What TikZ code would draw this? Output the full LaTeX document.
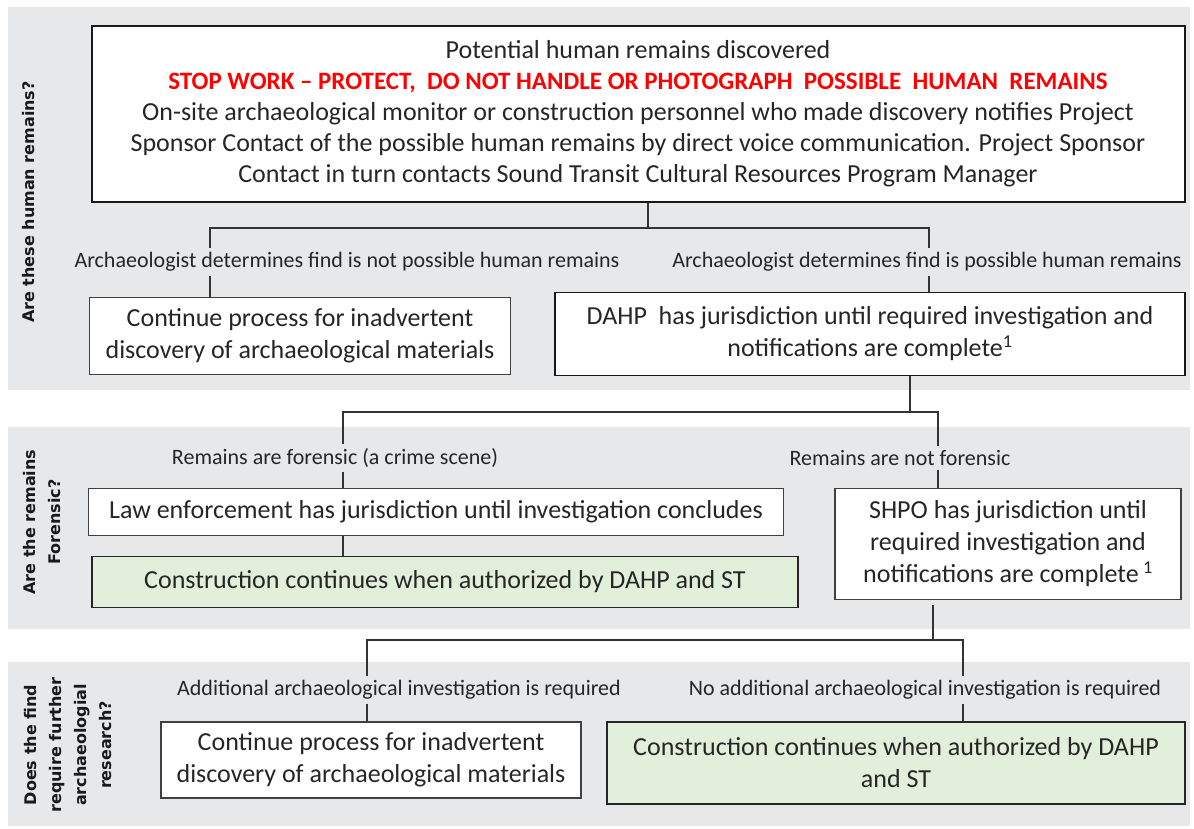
\documentclass[tikz,border=0pt]{standalone}
\usepackage{fontspec}
\setmainfont{Carlito}
\newfontfamily\sidefont{DejaVu Sans}
\usetikzlibrary{positioning}
\definecolor{bandgray}{RGB}{231,232,234}
\definecolor{boxgreen}{RGB}{226,239,218}
\definecolor{stopred}{RGB}{255,0,0}

\begin{document}
\begin{tikzpicture}[x=1pt, y=-1pt,
    wbox/.style={draw=black!75, line width=1.5pt, fill=white, align=center,
      inner sep=0pt, font=\fontsize{26}{32}\selectfont, text=black!85},
    gbox/.style={wbox, draw=black!85, line width=1.8pt, fill=boxgreen},
    lab/.style={align=center, inner xsep=2pt, inner ysep=4pt,
      font=\fontsize{22}{24}\selectfont, text=black!85},
    side/.style={rotate=90, align=center,
      font=\sidefont\bfseries\fontsize{16}{25}\selectfont, text=black!90},
    conn/.style={draw=black!80, line width=2pt}]

    \useasboundingbox (0,0) rectangle (1194,829);

    % -------------------------------------------------------
    % 1. Question bands
    % -------------------------------------------------------
    \fill[bandgray] (8,7) rectangle (1190,390);
    \fill[bandgray] (8,427) rectangle (1190,629);
    \fill[bandgray] (8,662) rectangle (1190,826);

    \node[side] (q1) at (29,202) {Are these human remains?};
    \node[side] (q2) at (42,522) {Are the remains\\Forensic?};
    \node[side] (q3) at (68,745) {Does the find\\require further\\archaeologial\\research?};

    % -------------------------------------------------------
    % 2. Discovery
    % -------------------------------------------------------
    \node[wbox, draw=black!90, line width=2pt, minimum width=1093, minimum height=176,
      font=\fontsize{26}{31}\selectfont]
      (discovery) at (638,114)
      {Potential human remains discovered\\
       {\color{stopred}\bfseries\fontsize{25}{31}\selectfont STOP WORK -- PROTECT,\ \ DO NOT HANDLE OR PHOTOGRAPH\ \ POSSIBLE\ \ HUMAN\ \ REMAINS}\\
       On-site archaeological monitor or construction personnel who made discovery notifies Project\\
       Sponsor Contact of the possible human remains by direct voice communication. Project Sponsor\\
       Contact in turn contacts Sound Transit Cultural Resources Program Manager};

    \node[lab] (notHuman) at (347,262) {Archaeologist determines find is not possible human remains};
    \node[lab] (isHuman) at (927,262) {Archaeologist determines find is possible human remains};

    \node[wbox, minimum width=421, minimum height=77] (continueA) at (300,336)
      {Continue process for inadvertent\\discovery of archaeological materials};
    \node[wbox, draw=black!90, minimum width=630, minimum height=83] (dahp) at (870,334)
      {DAHP\ \ has jurisdiction until required investigation and\\
       notifications are complete\textsuperscript{1}};

    \coordinate (d0) at (648,228);
    \coordinate (dL) at (210,228);
    \coordinate (dR) at (929,228);
    \draw[conn] (discovery.south -| d0) -- (d0);
    \draw[conn] (notHuman.north -| dL) -- (dL) -- (dR) -- (isHuman.north -| dR);
    \draw[conn] (notHuman.south -| dL) -- (continueA.north -| dL);
    \draw[conn] (isHuman.south -| dR) -- (dahp.north -| dR);

    % -------------------------------------------------------
    % 3. Forensic or not
    % -------------------------------------------------------
    \node[lab] (forensic) at (335,458) {Remains are forensic (a crime scene)};
    \node[lab] (notForensic) at (900,458) {Remains are not forensic};

    \node[wbox, minimum width=695, minimum height=47] (law) at (436,512)
      {Law enforcement has jurisdiction until investigation concludes};
    \node[gbox, minimum width=706, minimum height=51] (constructA) at (445,582)
      {Construction continues when\ authorized by DAHP and ST};
    \node[wbox, minimum width=346, minimum height=111] (shpo) at (1008,544)
      {SHPO has jurisdiction until\\required investigation and\\
       notifications are complete\,\textsuperscript{1}};

    \coordinate (f0) at (910,412);
    \coordinate (fL) at (343,412);
    \coordinate (fR) at (938,412);
    \draw[conn] (dahp.south -| f0) -- (f0);
    \draw[conn] (forensic.north -| fL) -- (fL) -- (fR) -- (notForensic.north -| fR);
    \draw[conn] (forensic.south -| fL) -- (law.north -| fL);
    \draw[conn] (law.south -| fL) -- (constructA.north -| fL);
    \draw[conn] (notForensic.south -| fR) -- (shpo.north -| fR);

    % -------------------------------------------------------
    % 4. Further research
    % -------------------------------------------------------
    \node[lab] (more) at (399,690) {Additional archaeological investigation is required};
    \node[lab] (noMore) at (925,690) {No additional archaeological investigation is required};

    \node[wbox, minimum width=420, minimum height=76] (continueB) at (371,760)
      {Continue process for inadvertent\\discovery of archaeological materials};
    \node[gbox, minimum width=578, minimum height=82] (constructB) at (896,763)
      {Construction continues when\ authorized by DAHP\\and ST};

    \coordinate (r0) at (933,640);
    \coordinate (rL) at (367,640);
    \coordinate (rR) at (963,640);
    \draw[conn] (shpo.south -| r0) ++(0,5) -- (r0);
    \draw[conn] (more.north -| rL) -- (rL) -- (rR) -- (noMore.north -| rR);
    \draw[conn] (more.south -| rL) -- (continueB.north -| rL);
    \draw[conn] (noMore.south -| rR) -- (constructB.north -| rR);
\end{tikzpicture}
\end{document}
